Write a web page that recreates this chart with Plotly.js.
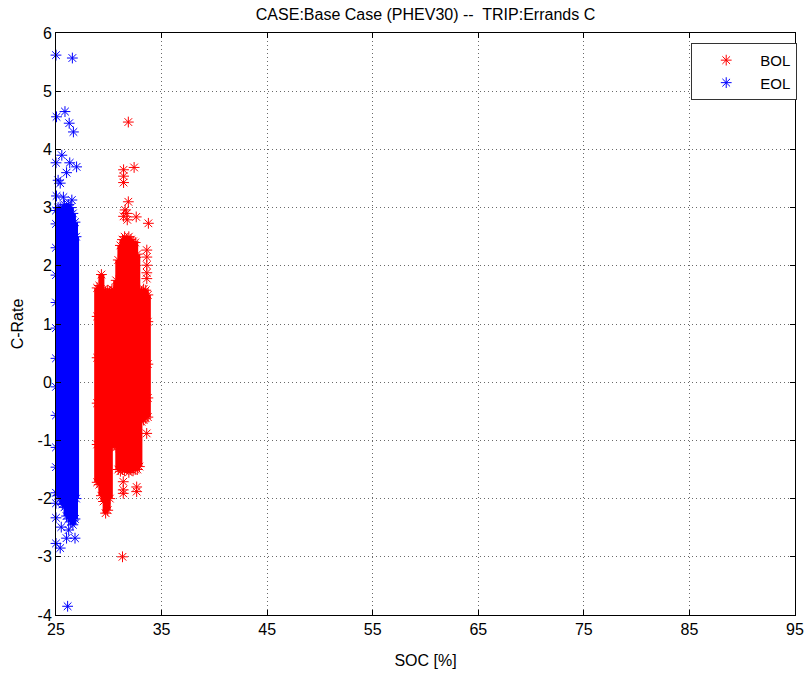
<!DOCTYPE html>
<html>
<head>
<meta charset="utf-8">
<script src="https://cdn.plot.ly/plotly-3.0.1.min.js"></script>
<style>html,body{margin:0;padding:0;background:#fff;}#chart{width:812px;height:674px;}</style>
</head>
<body>
<div id="chart"></div>
<script>
// ---- Data ----
// BOL dense body: columns of SOC with lowest / highest C-Rate
const bolBodySoc = [28.9, 29.1, 29.3, 29.5, 29.7, 29.9, 30.1, 30.3, 30.5, 30.7, 30.9, 31.1, 31.3, 31.5, 31.7, 31.9, 32.1, 32.3, 32.5, 32.7, 32.9, 33.1, 33.3, 33.5, 33.7];
const bolBodyLo  = [-1.72, -1.76, -1.95, -2.05, -2.25, -2.2, -2.0, -1.1, -1.08, -1.12, -1.5, -1.53, -1.5, -1.52, -1.48, -1.55, -1.5, -1.52, -1.5, -1.5, -1.45, -0.68, -0.65, -0.62, -0.6];
const bolBodyHi  = [1.62, 1.66, 1.85, 1.6, 1.55, 1.58, 1.56, 1.6, 1.58, 1.75, 2.1, 2.35, 2.45, 2.5, 2.45, 2.5, 2.45, 2.42, 2.4, 2.2, 1.6, 1.55, 1.6, 1.58, 1.5];
// BOL scattered points (outliers and edge asterisks)
const bolSoc  = [31.85, 31.4, 31.4, 31.4, 32.4, 31.85, 31.55, 31.7, 31.75, 31.4, 32.6, 33.75, 33.6, 33.6, 33.6, 33.6, 33.6, 31.37, 31.37, 31.37, 32.64, 32.64, 33.59, 31.3, 28.9, 28.9, 28.9, 28.9, 33.7, 33.7, 33.7];
const bolRate = [4.47, 3.65, 3.54, 3.43, 3.69, 3.1, 2.96, 2.9, 2.79, 2.85, 2.84, 2.73, 2.27, 2.15, 2.01, 1.88, 1.78, -1.71, -1.85, -1.91, -1.8, -1.88, -0.88, -3.0, 1.13, 0.42, -0.36, -1.07, 1.04, 0.31, -0.27];

// EOL dense body
const eolBodySoc = [25.0, 25.2, 25.4, 25.6, 25.8, 26.0, 26.2, 26.4, 26.6, 26.8, 26.9];
const eolBodyLo  = [-1.9, -1.95, -2.0, -2.1, -2.15, -2.3, -2.35, -2.4, -2.45, -2.35, -2.0];
const eolBodyHi  = [2.95, 3.0, 3.0, 2.95, 3.05, 3.0, 3.05, 3.0, 2.9, 2.75, 2.5];
// EOL scattered points (outliers and edge asterisks)
const eolSoc  = [25.0, 26.55, 25.05, 25.85, 26.25, 26.65, 25.55, 25.0, 26.3, 26.95, 26.0, 25.2, 25.4, 25.05, 25.7, 26.5, 25.0, 25.0, 25.5, 26.2, 26.65, 26.8, 26.0, 25.0, 25.4, 26.1, 25.0, 25.0, 25.0, 25.0, 25.0, 25.0, 25.0, 25.0, 25.0, 25.0];
const eolRate = [5.62, 5.57, 4.56, 4.65, 4.45, 4.3, 3.9, 3.77, 3.77, 3.7, 3.6, 3.47, 3.42, 3.2, 3.18, 3.13, -2.08, -2.33, -2.49, -2.54, -2.37, -2.68, -2.68, -2.77, -2.85, -3.85, 2.72, 2.31, 1.84, 1.37, 0.93, 0.41, -0.08, -0.57, -1.12, -1.46];

const xTicks = [25, 35, 45, 55, 65, 75, 85, 95];
const yTicks = [-4, -3, -2, -1, 0, 1, 2, 3, 4, 5, 6];

const RED = 'rgb(255,0,0)';
const BLUE = 'rgb(0,0,255)';
const FONT = 'Liberation Sans, Arial, Helvetica, sans-serif';

function bodyTrace(xs, lo, hi, color) {
  const x = [], y = [];
  for (let i = 0; i < xs.length; i++) {
    x.push(xs[i], xs[i], null);
    y.push(lo[i], hi[i], null);
  }
  return {
    type: 'scatter', mode: 'lines+markers', x: x, y: y,
    line: {color: color, width: 6, simplify: false},
    marker: {symbol: 'asterisk-open', size: 9, color: color, line: {color: color, width: 1}},
    connectgaps: false, cliponaxis: false, showlegend: false, hoverinfo: 'skip'
  };
}
function pointTrace(xs, ys, color, name) {
  return {
    type: 'scatter', mode: 'markers', x: xs, y: ys, name: name,
    marker: {symbol: 'asterisk-open', size: 9, color: color, line: {color: color, width: 1}},
    cliponaxis: false
  };
}

const data = [
  bodyTrace(bolBodySoc, bolBodyLo, bolBodyHi, RED),
  pointTrace(bolSoc, bolRate, RED, 'BOL'),
  bodyTrace(eolBodySoc, eolBodyLo, eolBodyHi, BLUE),
  pointTrace(eolSoc, eolRate, BLUE, 'EOL')
];

const axisCommon = {
  showline: true, linecolor: '#000', linewidth: 1, mirror: 'ticks',
  ticks: 'inside', ticklen: 5, tickcolor: '#000', tickwidth: 1,
  showgrid: true, gridcolor: '#6a6a6a', gridwidth: 1, griddash: '1px,3px',
  zeroline: false, tickfont: {family: FONT, size: 16, color: '#000'}
};

const layout = {
  width: 812, height: 674,
  paper_bgcolor: '#fff', plot_bgcolor: '#fff',
  margin: {l: 56, r: 17, t: 33, b: 59},
  font: {family: FONT, size: 16, color: '#000'},
  title: {text: 'CASE:Base Case (PHEV30) --  TRIP:Errands C', font: {family: FONT, size: 16, color: '#000'},
          x: 0.5, xref: 'paper', y: 1, yref: 'paper', yanchor: 'bottom', pad: {b: 13}},
  xaxis: Object.assign({}, axisCommon, {
    range: [25, 95], tickvals: xTicks, ticktext: xTicks.map(String),
    title: {text: 'SOC [%]', font: {family: FONT, size: 16}, standoff: 17}
  }),
  yaxis: Object.assign({}, axisCommon, {
    range: [-4, 6], tickvals: yTicks, ticktext: yTicks.map(String),
    title: {text: 'C-Rate', font: {family: FONT, size: 16}, standoff: 9}
  }),
  legend: {
    x: 1.003, xanchor: 'right', y: 0.983, yanchor: 'top',
    bgcolor: '#fff', bordercolor: '#333', borderwidth: 1,
    font: {family: FONT, size: 15, color: '#000'}, itemwidth: 58
  },
  showlegend: true
};

Plotly.newPlot('chart', data, layout, {displayModeBar: false, staticPlot: true});
</script>
</body>
</html>
